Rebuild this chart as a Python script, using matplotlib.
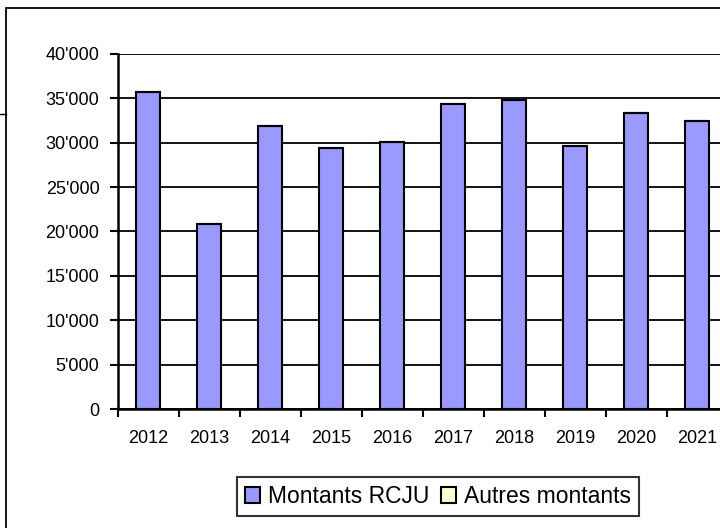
import matplotlib.pyplot as plt
import numpy as np
from matplotlib.patches import Rectangle
from matplotlib.lines import Line2D

plt.rcParams['font.family'] = ['Liberation Sans', 'DejaVu Sans']

years = ['2012', '2013', '2014', '2015', '2016', '2017', '2018', '2019', '2020', '2021']
rcju = [35700, 20900, 31900, 29400, 30100, 34400, 34800, 29600, 33300, 32500]
autres = [0, 0, 0, 0, 0, 0, 0, 0, 0, 0]
yticks = [0, 5000, 10000, 15000, 20000, 25000, 30000, 35000, 40000]

fig = plt.figure(figsize=(7.2, 5.28), dpi=100)

# outer chart frame (runs past the crop on right/bottom)
fig.add_artist(Rectangle((6.5 / 720, -0.1), 1.2, (528 - 8) / 528 + 0.1,
                         transform=fig.transFigure, fill=False,
                         edgecolor='black', lw=1.3))
fig.add_artist(Line2D([0, 6.5 / 720], [1 - 114 / 528, 1 - 114 / 528],
                      transform=fig.transFigure, color='black', lw=1.0))

ax = fig.add_axes([117.5 / 720, 119 / 528, 610 / 720, 355 / 528])
x = np.arange(len(years))
ax.bar(x, rcju, width=0.4, color='#9999FF', edgecolor='black', lw=1.5,
       label='Montants RCJU', zorder=3)
ax.bar(x, autres, width=0.4, bottom=rcju, color='#FFFFCC', edgecolor='black',
       lw=1.5, label='Autres montants', zorder=3)

ax.set_xlim(-0.5, len(years) - 0.5)
ax.set_ylim(0, 40000)

ax.set_yticks(yticks)
ax.set_yticklabels([f"{v:,}".replace(',', "'") for v in yticks])
ax.yaxis.grid(True, color='black', lw=1.3, zorder=1)
ax.tick_params(axis='y', length=6, width=1.5, pad=7, labelsize=13, direction='out')

ax.set_xticks(np.arange(len(years) + 1) - 0.5)
ax.set_xticklabels([])
ax.set_xticks(x, minor=True)
ax.set_xticklabels(years, minor=True)
ax.tick_params(axis='x', which='major', length=6, width=1.5, direction='out')
ax.tick_params(axis='x', which='minor', length=0, pad=15, labelsize=13)

for s in ['top', 'right']:
    ax.spines[s].set_visible(False)
for s in ['left', 'bottom']:
    ax.spines[s].set_linewidth(1.8)
    ax.spines[s].set_zorder(4)

leg = fig.legend(loc='center', bbox_to_anchor=(438 / 720, 31.5 / 528),
                 ncol=2, fontsize=16.5, frameon=True, fancybox=False,
                 handlelength=0.65, handleheight=0.65, handletextpad=0.35,
                 columnspacing=0.5, borderpad=0.35, borderaxespad=0)
leg.get_frame().set_edgecolor('black')
leg.get_frame().set_linewidth(1.5)

fig.savefig('out.png', dpi=100)
